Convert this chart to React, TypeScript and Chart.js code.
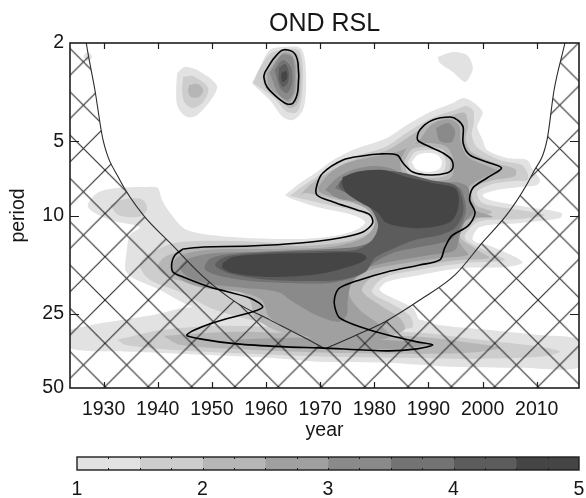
import React, { useEffect, useRef } from 'react';
import { Chart, registerables } from 'chart.js';
Chart.register(...registerables);

type P = [number, number];

// ---------- axes ----------
const yearMin = 1923.8;
const yearMax = 2017.8;
const periodMin = 2;
const periodMax = 50;
const xTicks = [1930, 1940, 1950, 1960, 1970, 1980, 1990, 2000, 2010];
const yTicks = [2, 5, 10, 25, 50];
const colorbarTicks = [1, 2, 3, 4, 5];
const colorbarEdges = [1, 1.5, 2, 2.5, 3, 3.5, 4, 4.5, 5];
const colorbarMinor = [1.25, 1.5, 1.75, 2, 2.25, 2.5, 2.75, 3, 3.25, 3.5, 3.75, 4, 4.25, 4.5, 4.75];

// ---------- power contour regions: [year, period] ----------
// level 1 (power 1-1.5)
const lowerBand1: P[] = [[1923.4,29.07],[1929.9,27.23],[1939.1,25.28],[1946.5,23.46],[1958.9,24.58],[1971.8,26.48],[1988.4,26.48],[1991.6,27.74],[2000.8,29.07],[2010.0,30.45],[2018.2,32.21],[2018.2,41.05],[2006.9,41.43],[1994.5,41.05],[1982.3,39.54],[1969.9,39.18],[1960.7,37.74],[1948.4,36.70],[1936.2,35.69],[1923.4,34.38]];
const mainBody1: P[] = [[1963.5,8.256],[1966.3,7.382],[1969.4,6.662],[1972.4,5.957],[1976.0,5.427],[1982.3,4.853],[1986.0,4.299],[1990.3,3.808],[1994.5,3.501],[1996.4,3.342],[1998.2,3.469],[2000.0,3.808],[1999.5,4.103],[1999.0,4.380],[2000.0,4.944],[2000.8,5.427],[2004.5,5.847],[2008.2,5.957],[2009.3,6.539],[2010.6,7.178],[2010.0,7.521],[2006.9,7.662],[2002.6,7.880],[2000.0,8.256],[2001.3,8.650],[2008.2,9.233],[2014.6,9.764],[2014.3,10.23],[2006.9,10.72],[1999.5,11.13],[1998.2,12.56],[2001.9,13.41],[2007.4,15.43],[2004.5,16.16],[1996.4,16.31],[1988.4,17.41],[1982.3,18.59],[1981.0,20.02],[1984.2,21.98],[1987.1,23.68],[1988.0,25.75],[1988.4,27.74],[1981.0,28.53],[1966.3,27.74],[1953.3,25.28],[1946.5,23.46],[1940.4,20.02],[1934.3,17.09],[1934.3,13.79],[1934.9,11.99],[1936.7,11.13],[1931.2,10.42],[1927.1,9.233],[1928.8,8.103],[1932.5,7.734],[1938.0,7.662],[1940.0,7.734],[1940.8,8.650],[1942.3,9.764],[1945.4,11.44],[1953.9,12.22],[1966.3,12.45],[1973.6,11.99],[1977.3,11.23],[1978.3,10.62],[1976.0,9.949],[1969.4,9.233],[1964.4,8.490]];
const blobB1_1: P[] = [[1943.6,2.647],[1945.0,2.503],[1947.3,2.574],[1950.9,2.961],[1950.2,3.311],[1947.3,3.916],[1945.4,3.990],[1943.7,3.634],[1943.4,3.102]];
const blobB2_1: P[] = [[1957.4,2.906],[1958.9,2.503],[1960.7,2.134],[1963.1,2.076],[1966.3,2.095],[1967.2,2.344],[1967.4,3.102],[1966.8,3.738],[1965.0,4.103],[1963.1,3.990],[1960.7,3.405],[1958.3,3.045]];
const blobB3_1: P[] = [[1991.7,2.279],[1994.5,2.175],[1997.1,2.237],[1998.2,2.503],[1997.6,2.748],[1996.7,2.879],[1994.5,2.623],[1992.1,2.411]];
const blobB4_1: P[] = [[1926.2,2.258],[1927.1,2.175],[1927.9,2.279],[1927.0,2.366]];
// level 1.5
const tail15: P[] = [[1931.2,9.063],[1934.0,8.570],[1937.3,8.650],[1938.0,9.495],[1936.4,10.14],[1932.7,9.949]];
const lowerBand15: P[] = [[1932.5,31.91],[1941.0,29.07],[1953.3,28.00],[1971.8,29.07],[1988.4,29.89],[1999.5,31.91],[2010.6,34.06],[2014.3,35.69],[2010.6,37.39],[1997.6,38.10],[1984.7,37.74],[1971.8,37.39],[1957.0,36.36],[1942.3,35.03],[1934.0,33.43]];
const main15: P[] = [[1964.4,8.333],[1966.8,7.591],[1969.9,6.852],[1972.9,6.184],[1976.6,5.739],[1982.0,5.278],[1986.2,4.589],[1990.6,4.027],[1994.9,3.738],[1996.9,3.601],[1998.2,3.738],[1998.4,4.180],[1998.0,4.719],[1999.1,5.327],[2003.2,5.957],[2007.2,6.242],[2008.3,6.725],[2008.3,7.178],[2006.0,7.246],[2001.9,7.451],[1999.0,8.028],[2000.0,8.895],[2006.9,9.495],[2011.5,9.949],[2006.9,10.33],[1999.1,10.62],[1996.7,12.33],[2000.4,13.79],[2004.1,15.14],[1996.7,15.57],[1988.0,16.62],[1981.6,17.90],[1979.6,20.40],[1983.2,22.81],[1986.6,25.51],[1986.9,28.53],[1971.8,29.89],[1958.9,26.98],[1950.6,24.12],[1944.1,20.40],[1938.6,18.24],[1936.7,16.01],[1938.2,14.45],[1943.2,12.92],[1953.3,12.68],[1966.3,12.92],[1974.6,12.33],[1978.8,11.23],[1979.4,10.23],[1976.4,9.584],[1969.9,8.895],[1965.3,8.411]];
const blobB1_15: P[] = [[1944.7,2.748],[1946.5,2.723],[1949.3,3.045],[1948.4,3.469],[1946.5,3.669],[1945.0,3.501],[1944.5,3.102]];
const blobB2_15: P[] = [[1957.6,2.906],[1959.4,2.411],[1961.3,2.175],[1965.9,2.134],[1966.8,2.503],[1966.6,3.311],[1965.7,3.808],[1963.9,3.808],[1961.3,3.311]];
// level 2
const lowerBand2: P[] = [[1941.0,30.74],[1953.3,29.62],[1971.8,30.45],[1988.4,31.03],[1997.6,32.81],[2003.2,34.38],[1997.6,36.02],[1984.7,36.36],[1971.8,36.02],[1957.0,35.03],[1944.1,33.43]];
const blobB1_2: P[] = [[1945.8,2.961],[1947.4,2.933],[1948.4,3.102],[1947.6,3.311],[1946.1,3.311],[1945.6,3.131]];
const blobB2_2: P[] = [[1959.4,2.774],[1961.3,2.279],[1963.9,2.134],[1965.9,2.237],[1966.4,2.826],[1965.9,3.501],[1964.4,3.669],[1962.2,3.342],[1959.8,3.016]];
const main2: P[] = [[1966.3,8.256],[1968.1,7.521],[1970.5,6.916],[1973.6,6.300],[1977.3,5.847],[1982.5,5.427],[1986.6,4.763],[1990.8,4.180],[1994.5,3.916],[1996.7,3.844],[1997.3,4.299],[1996.9,4.944],[1998.0,5.529],[2002.3,6.126],[2006.0,6.479],[2006.0,6.916],[2001.3,7.246],[1998.0,7.880],[1998.8,9.063],[2001.7,9.674],[1998.6,10.42],[1995.8,12.10],[1999.0,13.79],[2001.3,14.86],[1995.8,15.14],[1987.5,16.01],[1980.7,17.09],[1977.7,20.02],[1981.0,23.03],[1984.7,25.99],[1985.6,29.07],[1981.0,31.32],[1971.8,31.91],[1962.6,29.62],[1958.0,25.99],[1957.0,21.98],[1954.3,20.02],[1947.8,18.94],[1942.3,17.90],[1940.0,16.31],[1941.3,14.72],[1946.0,13.66],[1955.2,13.16],[1966.3,13.29],[1975.5,12.68],[1979.7,11.44],[1980.5,10.04],[1978.3,9.233],[1971.8,8.490],[1967.2,8.103]];
// level 2.5
const blobB2_25: P[] = [[1960.2,2.647],[1963.1,2.196],[1964.8,2.237],[1965.5,2.457],[1965.5,3.102],[1964.6,3.437],[1963.9,3.469],[1962.2,3.250],[1960.5,2.988]];
const lowerBand25: P[] = [[1953.3,31.91],[1966.3,31.32],[1981.0,31.91],[1990.3,33.12],[1984.7,34.70],[1969.9,34.70],[1957.0,33.75]];
const main25: P[] = [[1969.6,7.662],[1971.8,6.725],[1974.9,6.126],[1979.6,5.793],[1984.2,5.529],[1988.0,5.037],[1990.3,4.339],[1993.4,4.065],[1995.6,4.299],[1996.0,5.084],[1997.3,5.793],[2001.3,6.359],[2003.2,6.662],[2000.4,6.981],[1997.3,7.734],[1996.5,9.063],[1999.9,9.764],[2001.9,10.14],[1997.6,10.33],[1994.9,11.66],[1996.4,13.53],[1997.3,14.45],[1992.1,14.86],[1984.7,15.72],[1978.3,16.93],[1975.1,20.02],[1977.3,24.12],[1981.0,27.74],[1982.9,31.03],[1977.3,32.51],[1969.9,31.91],[1964.4,29.07],[1960.7,25.99],[1959.2,21.98],[1955.2,20.40],[1948.7,19.65],[1944.7,18.41],[1942.6,16.31],[1943.7,14.72],[1948.7,13.79],[1958.9,13.66],[1969.9,13.53],[1975.5,12.92],[1978.8,11.99],[1980.1,10.62],[1978.8,9.495],[1975.5,8.731],[1971.8,8.333],[1969.9,8.028]];
// local minimum (white spot) rings
const spot2: P[] = [[1984.7,6.069],[1986.4,5.229],[1989.9,5.084],[1993.4,5.278],[1994.7,6.069],[1994.1,7.046],[1989.9,7.246],[1985.6,7.046]];
const spot15: P[] = [[1985.5,6.069],[1987.0,5.377],[1989.9,5.278],[1992.8,5.427],[1994.0,6.069],[1993.4,6.852],[1989.9,7.046],[1986.4,6.852]];
const spot1: P[] = [[1986.2,6.069],[1987.5,5.529],[1989.9,5.427],[1992.3,5.529],[1993.2,6.069],[1992.7,6.662],[1989.9,6.852],[1986.9,6.662]];
const spot0: P[] = [[1986.9,6.069],[1988.0,5.686],[1989.9,5.581],[1991.7,5.686],[1992.5,6.069],[1992.0,6.479],[1989.9,6.662],[1987.7,6.479]];
// level 3
const blobB2_3: P[] = [[1960.7,2.647],[1962.9,2.237],[1964.8,2.279],[1965.3,2.647],[1965.0,3.190],[1963.9,3.405],[1962.2,3.190]];
const finger3: P[] = [[1991.4,4.421],[1993.6,4.219],[1994.9,4.546],[1994.3,5.037],[1992.1,4.991]];
const main3: P[] = [[1970.9,7.880],[1973.1,7.046],[1975.9,6.539],[1980.1,6.300],[1983.8,6.539],[1985.6,7.313],[1990.3,7.521],[1994.9,7.313],[1997.3,7.662],[1997.6,8.490],[1998.6,9.495],[1996.7,10.62],[1995.8,11.99],[1994.9,13.79],[1990.3,14.45],[1984.7,15.14],[1978.8,16.31],[1975.9,18.59],[1975.1,21.98],[1974.9,25.28],[1973.3,26.98],[1969.6,25.51],[1965.0,22.39],[1962.2,20.40],[1956.1,19.65],[1949.6,18.94],[1945.6,17.74],[1944.1,16.16],[1946.0,14.86],[1950.6,14.18],[1958.9,14.05],[1969.9,13.92],[1976.4,13.53],[1980.1,12.56],[1981.4,10.92],[1980.7,9.495],[1977.3,8.812],[1973.6,8.570]];
// level 3.5
const blobB2_35: P[] = [[1961.6,2.574],[1963.1,2.344],[1964.6,2.503],[1964.8,2.906],[1963.9,3.190],[1962.6,3.045]];
const main35: P[] = [[1972.7,7.734],[1974.6,6.981],[1977.3,6.662],[1981.0,6.601],[1984.7,6.852],[1988.4,7.451],[1993.0,7.521],[1995.8,7.734],[1996.7,8.650],[1996.9,9.674],[1995.8,11.23],[1994.0,12.56],[1988.4,13.41],[1983.8,14.05],[1980.1,15.43],[1977.3,17.41],[1971.8,18.76],[1964.4,18.76],[1957.0,18.41],[1951.5,17.58],[1948.7,16.47],[1949.6,15.00],[1953.3,14.32],[1962.6,13.92],[1971.8,13.66],[1977.3,13.29],[1981.0,12.10],[1982.0,10.42],[1980.1,9.063],[1976.4,8.333]];
// level 4
const blobB2_4: P[] = [[1962.4,2.527],[1963.5,2.433],[1964.2,2.623],[1964.0,2.906],[1963.1,3.016],[1962.4,2.826]];
const main4: P[] = [[1973.6,7.313],[1975.5,6.788],[1979.2,6.539],[1984.7,6.662],[1990.3,7.178],[1994.9,7.521],[1996.2,8.490],[1996.4,9.764],[1994.9,11.23],[1992.1,11.99],[1987.5,12.56],[1983.8,13.53],[1980.1,14.86],[1978.3,16.93],[1973.6,18.24],[1966.3,18.41],[1958.9,18.07],[1953.0,17.09],[1950.6,15.86],[1952.4,14.72],[1958.9,14.18],[1969.9,13.92],[1976.4,13.79],[1979.6,12.56],[1980.7,10.92],[1979.2,9.320],[1975.5,8.256],[1973.6,7.734]];
// level 4.5
const blobB2_45: P[] = [[1962.9,2.647],[1963.7,2.598],[1963.9,2.774],[1963.1,2.879],[1962.8,2.748]];
const upper45: P[] = [[1974.2,6.981],[1976.8,6.662],[1981.6,6.539],[1986.0,6.981],[1990.8,7.382],[1994.5,7.662],[1995.4,8.028],[1995.6,8.812],[1995.2,9.764],[1994.0,10.62],[1990.8,11.13],[1987.1,11.23],[1982.3,10.72],[1980.5,9.674],[1977.3,8.812],[1974.9,8.103],[1974.0,7.382]];
const middle45: P[] = [[1952.0,15.57],[1953.9,14.72],[1960.2,14.32],[1969.4,14.18],[1977.3,14.18],[1978.6,14.86],[1976.8,15.72],[1969.9,17.25],[1960.7,17.74],[1953.9,17.09],[1952.0,16.31]];

// ---------- significance contours ----------
const sigMain: P[] = [[1944.7,13.66],[1948.4,13.41],[1957.0,13.29],[1966.3,12.92],[1973.6,12.33],[1977.9,11.66],[1979.7,10.72],[1979.2,9.949],[1976.8,9.495],[1972.4,8.812],[1969.4,8.256],[1969.4,7.521],[1970.5,6.725],[1974.2,5.957],[1977.7,5.739],[1981.0,5.633],[1984.2,5.686],[1985.3,6.126],[1987.1,6.662],[1990.3,6.852],[1993.4,6.725],[1994.5,6.419],[1994.3,5.957],[1992.7,5.581],[1990.3,5.278],[1988.0,4.944],[1988.4,4.504],[1990.8,4.103],[1994.0,3.990],[1995.4,4.103],[1996.4,4.380],[1996.4,5.084],[1997.6,5.686],[2000.8,6.069],[2003.5,6.419],[2000.8,7.046],[1998.2,7.734],[1997.6,8.650],[1998.6,9.764],[1997.3,11.02],[1994.3,12.10],[1993.0,13.53],[1992.1,15.14],[1988.4,15.86],[1982.3,16.93],[1977.3,18.24],[1973.6,19.65],[1972.7,21.37],[1972.7,23.46],[1973.6,25.99],[1977.9,28.53],[1982.3,30.45],[1987.9,32.51],[1990.8,33.43],[1987.9,34.70],[1982.3,35.36],[1969.9,34.38],[1963.9,34.06],[1954.6,33.12],[1947.8,31.61],[1945.4,30.45],[1950.2,27.23],[1957.4,24.58],[1959.4,23.46],[1957.0,21.57],[1949.6,19.47],[1944.7,17.74],[1942.8,16.93],[1942.6,15.57],[1943.2,14.45]];
const sigBlob: P[] = [[1959.8,2.623],[1961.5,2.301],[1963.1,2.134],[1965.0,2.175],[1965.9,2.411],[1965.9,3.102],[1965.0,3.501],[1963.9,3.534],[1962.0,3.311],[1960.2,3.016],[1959.6,2.748]];

// ---------- cone of influence ----------
const coiLeft: P[] = [[1923.0,1.0],[1926.2,1.61],[1926.8,2.0],[1928.4,3.10],[1929.9,4.94],[1933.0,7.18],[1937.3,9.95],[1942.3,12.92],[1948.4,17.7],[1954.6,22.6],[1960.7,26.48],[1966.8,31.0],[1970.9,34.7]];
const coiRight: P[] = [[1970.9,34.7],[1976.4,30.7],[1981.9,27.0],[1988.4,22.0],[1994.9,17.41],[1999.9,12.92],[2005.0,9.58],[2009.3,6.72],[2011.9,4.94],[2013.2,3.10],[2015.2,2.0],[2016.1,1.61],[2018.5,1.0]];

// ---------- styles ----------
const levelColors = ['#e2e2e2', '#cdcdcd', '#b6b6b6', '#a0a0a0', '#8a8a8a', '#737373', '#5c5c5c', '#454545'];
const FONT = "'Liberation Sans', Arial, Helvetica, sans-serif";
const TEXT = '#161616';

// painter order (bottom first): [polygon, colour index (-1 = white)]
const layers: [P[], number][] = [
  [lowerBand1, 0], [mainBody1, 0], [blobB1_1, 0], [blobB2_1, 0], [blobB3_1, 0], [blobB4_1, 0],
  [tail15, 1], [lowerBand15, 1], [main15, 1], [blobB1_15, 1], [blobB2_15, 1],
  [lowerBand2, 2], [blobB1_2, 2], [blobB2_2, 2], [main2, 2],
  [blobB2_25, 3], [lowerBand25, 3], [main25, 3],
  [spot2, 2], [spot15, 1], [spot1, 0], [spot0, -1],
  [blobB2_3, 4], [finger3, 4], [main3, 4],
  [blobB2_35, 5], [main35, 5],
  [blobB2_4, 6], [main4, 6],
  [blobB2_45, 7], [upper45, 7], [middle45, 7],
];

const toXY = (pts: P[]) => pts.map(([x, y]) => ({ x, y }));

const framePlugin = {
  id: 'frame',
  afterDatasetsDraw(chart: any) {
    const { ctx, chartArea: a, scales } = chart;
    ctx.save();
    ctx.strokeStyle = '#1e1e1e';
    ctx.lineWidth = 1.2;
    ctx.beginPath();
    for (const t of scales.x.ticks) {
      const px = Math.round(scales.x.getPixelForValue(t.value)) + 0.5;
      ctx.moveTo(px, a.bottom); ctx.lineTo(px, a.bottom - 6);
      ctx.moveTo(px, a.top); ctx.lineTo(px, a.top + 6);
    }
    for (const t of scales.y.ticks) {
      const py = Math.round(scales.y.getPixelForValue(t.value)) + 0.5;
      if (py < a.top + 2 || py > a.bottom - 2) continue;
      ctx.moveTo(a.left, py); ctx.lineTo(a.left + 9, py);
      ctx.moveTo(a.right, py); ctx.lineTo(a.right - 9, py);
    }
    ctx.stroke();
    ctx.lineWidth = 1.6;
    ctx.strokeRect(a.left, a.top, a.right - a.left, a.bottom - a.top);
    ctx.restore();
  },
};

const colorbarFrame = {
  id: 'cbframe',
  afterDatasetsDraw(chart: any) {
    const { ctx, chartArea: a, scales } = chart;
    ctx.save();
    ctx.strokeStyle = '#1e1e1e';
    ctx.lineWidth = 1;
    ctx.beginPath();
    for (const v of colorbarMinor) {
      const px = Math.round(scales.x.getPixelForValue(v)) + 0.5;
      ctx.moveTo(px, a.top); ctx.lineTo(px, a.top + 2);
      ctx.moveTo(px, a.bottom); ctx.lineTo(px, a.bottom - 2);
    }
    ctx.stroke();
    ctx.lineWidth = 1.4;
    ctx.strokeRect(a.left, a.top, a.right - a.left, a.bottom - a.top);
    ctx.restore();
  },
};

export default function App() {
  const mainRef = useRef<HTMLCanvasElement>(null);
  const barRef = useRef<HTMLCanvasElement>(null);

  useEffect(() => {
    const canvas = mainRef.current!;
    const ctx = canvas.getContext('2d')!;

    // cross-hatch pattern for the cone of influence
    const tile = document.createElement('canvas');
    tile.width = 43; tile.height = 43;
    const t = tile.getContext('2d')!;
    t.strokeStyle = '#2b2b2b';
    t.lineWidth = 1.1;
    for (const d of [-43, 0, 43]) {
      t.beginPath(); t.moveTo(d - 3, -3); t.lineTo(d + 46, 46); t.stroke();
      t.beginPath(); t.moveTo(d + 46, -3); t.lineTo(d - 3, 46); t.stroke();
    }
    const pattern: any = ctx.createPattern(tile, 'repeat');
    if (pattern && pattern.setTransform) pattern.setTransform(new DOMMatrix([1.007, 0, 0, 1.007, 18.4, 40.2]));

    const fillSets = layers.map(([pts, ci]) => ({
      data: toXY([...pts, pts[0]]),
      backgroundColor: ci < 0 ? '#ffffff' : levelColors[ci],
      borderWidth: 0,
      pointRadius: 0,
      fill: 'shape',
      tension: 0.3,
    }));
    const coiSets = [coiLeft, coiRight].map((pts) => ({
      data: toXY(pts),
      backgroundColor: pattern,
      borderColor: '#2b2b2b',
      borderWidth: 1.1,
      pointRadius: 0,
      fill: 'start',
      cubicInterpolationMode: 'monotone',
    }));
    const sigSets = [sigMain, sigBlob].map((pts) => ({
      data: toXY([...pts, pts[0]]),
      borderColor: '#000000',
      borderWidth: 1.6,
      pointRadius: 0,
      fill: false,
      tension: 0.3,
    }));

    // Chart.js paints the last dataset first, so reverse painter order
    const datasets = [...fillSets, ...coiSets, ...sigSets].reverse();

    const font = { family: FONT, size: 19.5 };
    const c1 = new Chart(canvas, {
      type: 'line',
      data: { datasets: datasets as any },
      options: {
        responsive: false,
        animation: false,
        devicePixelRatio: 1,
        events: [],
        layout: { padding: { left: 0, right: 7, top: 0, bottom: 0 } },
        plugins: {
          legend: { display: false },
          tooltip: { enabled: false },
          title: {
            display: true,
            text: 'OND RSL',
            fullSize: false,
            color: TEXT,
            font: { family: FONT, size: 25, weight: 'normal' },
            padding: { top: 9, bottom: 4 },
          },
        },
        scales: {
          x: {
            type: 'linear',
            min: yearMin,
            max: yearMax,
            grid: { display: false, drawTicks: false },
            border: { display: false },
            ticks: { color: TEXT, font, padding: 10, autoSkip: false, maxRotation: 0, callback: (v: any) => String(v) },
            afterBuildTicks: (s: any) => { s.ticks = xTicks.map((v) => ({ value: v })); },
            afterFit: (s: any) => { s.height = 57; },
            title: { display: true, text: 'year', color: TEXT, font, padding: { top: 0, bottom: 3 } },
          },
          y: {
            type: 'logarithmic',
            reverse: true,
            min: periodMin,
            max: periodMax,
            grid: { display: false, drawTicks: false },
            border: { display: false },
            ticks: { color: TEXT, font, padding: 6, autoSkip: false, callback: (v: any) => String(v) },
            afterBuildTicks: (s: any) => { s.ticks = yTicks.map((v) => ({ value: v })); },
            afterFit: (s: any) => { s.width = 70; },
            title: { display: true, text: 'period', color: TEXT, font, padding: { top: 7, bottom: 0 } },
          },
        },
      } as any,
      plugins: [framePlugin],
    });

    const barSets = colorbarEdges.slice(0, -1).map((lo, i) => ({
      data: [[lo, colorbarEdges[i + 1]]],
      backgroundColor: levelColors[i],
      borderWidth: 0,
      grouped: false,
      barPercentage: 1,
      categoryPercentage: 1,
    }));
    const c2 = new Chart(barRef.current!, {
      type: 'bar',
      data: { labels: [''], datasets: barSets as any },
      options: {
        responsive: false,
        animation: false,
        devicePixelRatio: 1,
        events: [],
        indexAxis: 'y',
        layout: { padding: { left: 77, right: 0, top: 12, bottom: 0 } },
        plugins: { legend: { display: false }, tooltip: { enabled: false } },
        scales: {
          x: {
            type: 'linear',
            min: 1,
            max: 5,
            grid: { display: false, drawTicks: false },
            border: { display: false },
            ticks: { color: TEXT, font, padding: 8, callback: (v: any) => String(v) },
            afterBuildTicks: (s: any) => { s.ticks = colorbarTicks.map((v) => ({ value: v })); },
            afterFit: (s: any) => { s.height = 28; s.paddingRight = 7; },
          },
          y: { display: false },
        },
      } as any,
      plugins: [colorbarFrame],
    });

    return () => { c1.destroy(); c2.destroy(); };
  }, []);

  return (
    <div style={{ position: 'absolute', left: 0, top: 0, width: 586, height: 498, background: '#ffffff' }}>
      <canvas ref={mainRef} width={586} height={445} style={{ display: 'block', width: 586, height: 445 }} />
      <canvas ref={barRef} width={586} height={53} style={{ display: 'block', width: 586, height: 53 }} />
    </div>
  );
}
